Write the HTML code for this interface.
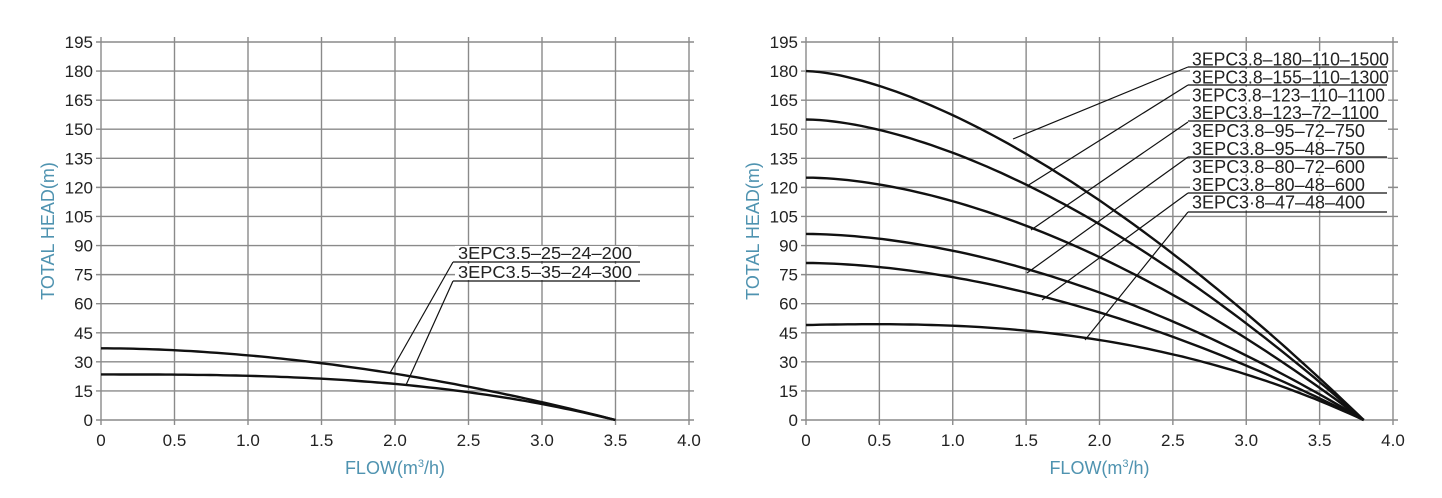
<!DOCTYPE html>
<html><head><meta charset="utf-8"><style>
html,body{margin:0;padding:0;background:#fff;}
svg{display:block;font-family:"Liberation Sans",Arial,sans-serif;}
</style></head><body>
<svg id="s" width="1442" height="498" xmlns="http://www.w3.org/2000/svg"></svg>
<script>
const s=document.getElementById('s');let h='';
const Y0=420,YT=42,py=(Y0-YT)/195;
function chart(x0,x1,curves,qmax){
  const px=(x1-x0)/4;
  for(let i=0;i<=8;i++){const x=x0+i*px/2;
    h+=`<line x1="${x}" y1="${YT-5}" x2="${x}" y2="${Y0+5}" stroke="#8a8a8a" stroke-width="1.4"/>`;
    const lab=i==0?'0':(i/2).toFixed(1);
    h+=`<text x="${x}" y="${Y0+26}" font-size="17" fill="#222" text-anchor="middle">${lab}</text>`;}
  for(let j=0;j<=13;j++){const y=Y0-j*15*py;
    h+=`<line x1="${x0-5}" y1="${y}" x2="${x1+5}" y2="${y}" stroke="#8a8a8a" stroke-width="1.4"/>`;
    h+=`<text x="${x0-8}" y="${y+6}" font-size="17" fill="#222" text-anchor="end">${j*15}</text>`;}
  curves.forEach(([H0,n,a])=>{let d='';
    for(let k=0;k<=80;k++){const q=qmax*k/80;const t=q/qmax;
      let H=H0*(1-Math.pow(t,n))+ (a||0)*t*(1-t);
      d+=(k?'L':'M')+(x0+q*px).toFixed(1)+','+(Y0-H*py).toFixed(1);}
    h+=`<path d="${d}" fill="none" stroke="#111" stroke-width="2.4"/>`;});
  h+=`<text x="${(x0+x1)/2}" y="474" font-size="18" fill="#4f93b0" text-anchor="middle">FLOW(m<tspan font-size="11" dy="-7">3</tspan><tspan dy="7">/h)</tspan></text>`;
  h+=`<text transform="translate(${x0-47},231) rotate(-90)" font-size="18" fill="#4f93b0" text-anchor="middle">TOTAL HEAD(m)</text>`;
}
chart(101,689,[[37,1.85,0],[23.5,2.8,0]],3.5);
chart(806,1393,[[180,1.5,8],[155,1.6,6],[125,1.7,4],[96,1.8,0],[81,1.8,0],[49,2.6,6]],3.8);
function ln(a,b,c,d,w){h+=`<line x1="${a}" y1="${b}" x2="${c}" y2="${d}" stroke="#111" stroke-width="${w||1.2}"/>`;}
ln(453,262,640,262);ln(453,281,640,281);ln(453,262,390,373);ln(453,281,406,385);
h+=`<rect x="455" y="246" width="183" height="15" fill="#fff"/><rect x="455" y="264" width="183" height="16" fill="#fff"/>`;
h+=`<text x="458" y="259" font-size="17.5" fill="#222" textLength="174" lengthAdjust="spacingAndGlyphs">3EPC3.5–25–24–200</text>`;
h+=`<text x="458" y="278" font-size="17.5" fill="#222" textLength="174" lengthAdjust="spacingAndGlyphs">3EPC3.5–35–24–300</text>`;
const labs=[['3EPC3.8–180–110–1500',197],['3EPC3.8–155–110–1300',197],['3EPC3.8–123–110–1100',193],['3EPC3.8–123–72–1100',187],['3EPC3.8–95–72–750',173],['3EPC3.8–95–48–750',173],['3EPC3.8–80–72–600',173],['3EPC3.8–80–48–600',173],['3EPC3·8–47–48–400',173]];
labs.forEach(([t,w],i)=>{h+=`<rect x="1190" y="${51+i*17.9}" width="198" height="16" fill="#fff"/>`;
  h+=`<text x="1192" y="${65.5+i*17.9}" font-size="18" fill="#222" textLength="${w}" lengthAdjust="spacingAndGlyphs">${t}</text>`;});
[67,85,121,157,193,212].forEach(y=>ln(1188,y,1387,y));
ln(1188,67,1013,139);ln(1188,85,1027,186);ln(1188,122,1031,230);ln(1188,157,1027,273);ln(1188,193,1042,300);ln(1188,212,1085,340);
s.innerHTML=h;
</script>
</body></html>
